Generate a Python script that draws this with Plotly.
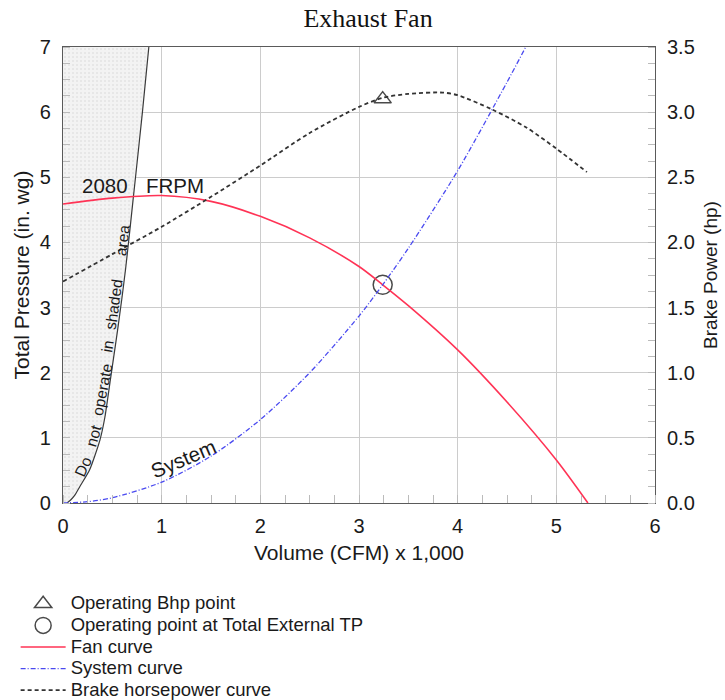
import plotly.graph_objects as go

# Fan performance data (volume in thousands of CFM)
fan_cfm = [0, 0.5, 1.0, 1.5, 2.0, 2.5, 3.0, 3.24, 3.5, 4.0, 4.5, 5.0, 5.32]
fan_tp = [4.59, 4.68, 4.72, 4.63, 4.40, 4.07, 3.63, 3.35, 3.03, 2.35, 1.55, 0.66, 0.0]

sys_cfm = [0, 0.25, 0.5, 1.0, 1.5, 2.0, 2.5, 3.0, 3.24, 3.5, 4.0, 4.5, 4.69]
sys_tp = [0, 0.02, 0.08, 0.32, 0.72, 1.28, 2.0, 2.87, 3.35, 3.91, 5.1, 6.46, 7.0]

bhp_cfm = [0, 0.5, 1.0, 1.5, 2.0, 2.5, 3.0, 3.24, 3.5, 3.85, 4.0, 4.35, 4.7, 5.0, 5.31]
bhp_hp = [1.70, 1.91, 2.12, 2.35, 2.59, 2.84, 3.04, 3.11, 3.14, 3.15, 3.13, 3.02, 2.88, 2.72, 2.54]

# Stall boundary ("do not operate" region lies to its left)
stall_cfm = [0.04, 0.08, 0.12, 0.17, 0.27, 0.375, 0.425, 0.48, 0.51, 0.553, 0.595, 0.635, 0.675, 0.71, 0.735, 0.805, 0.87]
stall_tp = [0.0, 0.05, 0.12, 0.25, 0.51, 0.97, 1.32, 1.89, 2.2, 2.65, 3.12, 3.6, 4.15, 4.65, 5.0, 6.0, 7.0]

# Warning words laid along the stall boundary
warn_words = ["Do", "not", "operate", "in", "shaded", "area"]
warn_x = [0.205, 0.308, 0.393, 0.452, 0.512, 0.603]
warn_y = [0.56, 1.04, 1.75, 2.40, 3.05, 4.03]
warn_angle = [-66, -74, -79, -81, -82, -83]

op_cfm, op_tp = [3.24], [3.35]
op_bhp = [3.10]

x_ticks = [0, 1, 2, 3, 4, 5, 6]
y_ticks = [0, 1, 2, 3, 4, 5, 6, 7]
y2_ticks = [0.0, 0.5, 1.0, 1.5, 2.0, 2.5, 3.0, 3.5]

FONT = "Liberation Sans, Arial, sans-serif"
TXT = "#1a1a1a"

fig = go.Figure()

# shaded stall region
fig.add_trace(go.Scatter(
    x=stall_cfm, y=stall_tp, mode="lines", fill="tozerox",
    fillcolor="#f1f1f1",
    fillpattern=dict(shape=".", fgcolor="#d2d2d2", bgcolor="#f3f3f3", size=4, solidity=0.2),
    line=dict(color="#3a3a3a", width=1.2, shape="spline", smoothing=0.6),
    showlegend=False, hoverinfo="skip"))


def legend_label(s):
    return '<span style="font-size:18.5px">' + s + "</span>"


fig.add_trace(go.Scatter(
    x=op_cfm, y=op_bhp, yaxis="y2", mode="markers", name=legend_label("Operating Bhp point"),
    marker=dict(symbol="triangle-up-open", size=15, color="#4a4a4a", line=dict(width=1.5))))
fig.add_trace(go.Scatter(
    x=op_cfm, y=op_tp, mode="markers", name=legend_label("Operating point at Total External TP"),
    marker=dict(symbol="circle-open", size=19, color="#4a4a4a", line=dict(width=1.5))))
fig.add_trace(go.Scatter(
    x=fan_cfm, y=fan_tp, mode="lines", name=legend_label("Fan curve"),
    line=dict(color="#ff3355", width=1.6, shape="spline", smoothing=0.8)))
fig.add_trace(go.Scatter(
    x=sys_cfm, y=sys_tp, mode="lines", name=legend_label("System curve"),
    line=dict(color="#4a4af0", width=1.3, dash="5px,2px,1px,2px", shape="spline", smoothing=0.8)))
fig.add_trace(go.Scatter(
    x=bhp_cfm, y=bhp_hp, yaxis="y2", mode="lines", name=legend_label("Brake horsepower curve"),
    line=dict(color="#333333", width=1.8, dash="4px,3px", shape="spline", smoothing=0.8)))

annot_font = dict(family=FONT, size=20.5, color=TXT)
fig.add_annotation(x=0.43, y=4.87, text="2080", showarrow=False, font=annot_font)
fig.add_annotation(x=1.135, y=4.87, text="FRPM", showarrow=False, font=annot_font)
fig.add_annotation(x=1.22, y=0.69, text="System", showarrow=False, textangle=-23, font=annot_font)
for word, wx, wy, ang in zip(warn_words, warn_x, warn_y, warn_angle):
    fig.add_annotation(x=wx, y=wy, text=word, showarrow=False, textangle=ang,
                       font=dict(family=FONT, size=15.5, color=TXT))

axis_common = dict(
    showline=True, linecolor="#5a5a5a", linewidth=1.3, mirror=True,
    gridcolor="#cccccc", gridwidth=1, ticks="", zeroline=False,
    tickfont=dict(family=FONT, size=20, color=TXT),
)

fig.update_layout(
    width=725, height=700,
    margin=dict(l=63, r=70, t=47, b=197, autoexpand=False),
    paper_bgcolor="white", plot_bgcolor="white",
    title=dict(text="Exhaust Fan", x=0.5076, xanchor="center", y=0.974, yanchor="middle",
               font=dict(family="Liberation Serif, Times New Roman, serif", size=26, color="#111111")),
    xaxis=dict(range=[0, 6], tickvals=x_ticks, ticklabelstandoff=5, **axis_common,
               minor=dict(dtick=0.25, ticks="inside", ticklen=8, tickcolor="#bbbbbb", showgrid=False),
               title=dict(text="Volume (CFM) x 1,000", standoff=9,
                          font=dict(family=FONT, size=21, color=TXT))),
    yaxis=dict(range=[0, 7], tickvals=y_ticks, ticklabelstandoff=7, **axis_common,
               minor=dict(dtick=0.25, ticks="inside", ticklen=7, tickcolor="#bbbbbb", showgrid=False),
               title=dict(text="Total Pressure (in. wg)", standoff=4,
                          font=dict(family=FONT, size=21, color=TXT))),
    yaxis2=dict(range=[0, 3.5], tickvals=y2_ticks, tickformat=".1f", overlaying="y", side="right",
                showgrid=False, showline=False, ticks="", zeroline=False, ticklabelstandoff=11,
                tickfont=dict(family=FONT, size=20, color=TXT),
                minor=dict(dtick=0.125, ticks="inside", ticklen=7, tickcolor="#bbbbbb", showgrid=False),
                title=dict(text="Brake Power (hp)", standoff=9,
                           font=dict(family=FONT, size=19, color=TXT))),
    legend=dict(x=-0.080, xanchor="left", y=0.16, yanchor="top", yref="container",
                font=dict(family=FONT, size=14.3, color=TXT), tracegroupgap=0,
                bgcolor="rgba(0,0,0,0)", itemwidth=45),
    showlegend=True,
)

fig.write_html("out.html")
